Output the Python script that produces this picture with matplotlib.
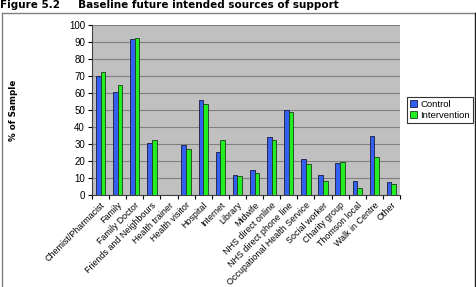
import matplotlib

matplotlib.use('Agg')
import matplotlib.pyplot as plt
from matplotlib.lines import Line2D
from matplotlib.transforms import ScaledTranslation
import numpy as np

categories = ['Chemist/Pharmacist', 'Family', 'Family Doctor', 'Friends and Neighbours',
              'Health trainer', 'Health visitor', 'Hospital', 'Internet', 'Library',
              'Midwife', 'NHS direct online', 'NHS direct phone line',
              'Occupational Health Service', 'Social worker', 'Charity group',
              'Thomson local', 'Walk in Centre', 'Other']
control = [70, 60.5, 92, 30.5, 0, 29.5, 56, 25.5, 11.5, 14.5, 34, 50, 21, 12, 19, 8, 34.5, 7.5]
intervention = [72.5, 65, 92.5, 32.5, 0, 27, 53.5, 32.5, 11, 13, 32.5, 49, 18.5, 8, 19.5, 4, 22.5, 6.5]
yticks = list(range(0, 101, 10))

W, H = 477, 287
fig = plt.figure(figsize=(W / 100, H / 100), dpi=100)
ax = fig.add_axes([92 / W, 1 - 195 / H, (400 - 92) / W, (195 - 25) / H])

x = np.arange(len(categories))
bw = 0.27
ax.bar(x - bw / 2, control, bw, color='#3360EE', edgecolor='#1a1a40', linewidth=0.6, label='Control', zorder=3)
ax.bar(x + bw / 2, intervention, bw, color='#22EE22', edgecolor='#1a401a', linewidth=0.6, label='Intervention', zorder=3)

ax.set_facecolor('#C0C0C0')
ax.set_xlim(-0.5, len(categories) - 0.5)
ax.set_ylim(0, 100)
ax.set_yticks(yticks)
ax.set_yticklabels([str(t) for t in yticks], fontsize=7, family='Liberation Sans')
ax.yaxis.grid(True, color='#808080', linewidth=0.8, zorder=0)
ax.set_axisbelow(True)

ax.set_xticks(np.arange(len(categories) + 1) - 0.5, minor=False)
ax.set_xticklabels([])
ax.set_xticks(x, minor=True)
ax.set_xticklabels(categories, minor=True, rotation=45, ha='right', va='top',
                   rotation_mode='anchor', fontsize=6.4, family='Liberation Sans')
shift = ScaledTranslation(-6 / 100, 0, fig.dpi_scale_trans)
for lab in ax.get_xticklabels(minor=True):
    lab.set_transform(lab.get_transform() + shift)
ax.tick_params(axis='x', which='minor', length=0, pad=4)
ax.tick_params(axis='x', which='major', length=3, width=0.8)
ax.tick_params(axis='y', length=3, width=0.8, pad=2)
for s in ['top', 'right']:
    ax.spines[s].set_visible(False)
ax.spines['left'].set_color('#404040')
ax.spines['bottom'].set_color('#404040')

ax.set_ylabel('% of Sample', fontsize=6.3, fontweight='bold')
ax.yaxis.set_label_coords(-0.24, 0.5)

leg = ax.legend(loc='center left', bbox_to_anchor=(407 / W, 1 - 110 / H),
                bbox_transform=fig.transFigure, frameon=True,
                fancybox=False, handlelength=0.8, handleheight=0.8,
                handletextpad=0.3, borderpad=0.3, labelspacing=0.2,
                borderaxespad=0, prop={'family': 'Liberation Sans', 'size': 6.8})
leg.get_frame().set_edgecolor('black')
leg.get_frame().set_linewidth(0.8)

fig.text(0.5 / W, 1 - 7.5 / H, 'Figure 5.2     Baseline future intended sources of support',
         fontsize=7.5, fontweight='bold', va='baseline', ha='left')

# outer chart frame
fig.add_artist(Line2D([1.5 / W, 475 / W], [1 - 12.5 / H, 1 - 12.5 / H], color='#808080', lw=1))
fig.add_artist(Line2D([1.5 / W, 1.5 / W], [0, 1 - 12.5 / H], color='#808080', lw=1))
fig.add_artist(Line2D([475 / W, 475 / W], [0, 1 - 12.5 / H], color='#202020', lw=1))

fig.savefig('out.png', dpi=100)
